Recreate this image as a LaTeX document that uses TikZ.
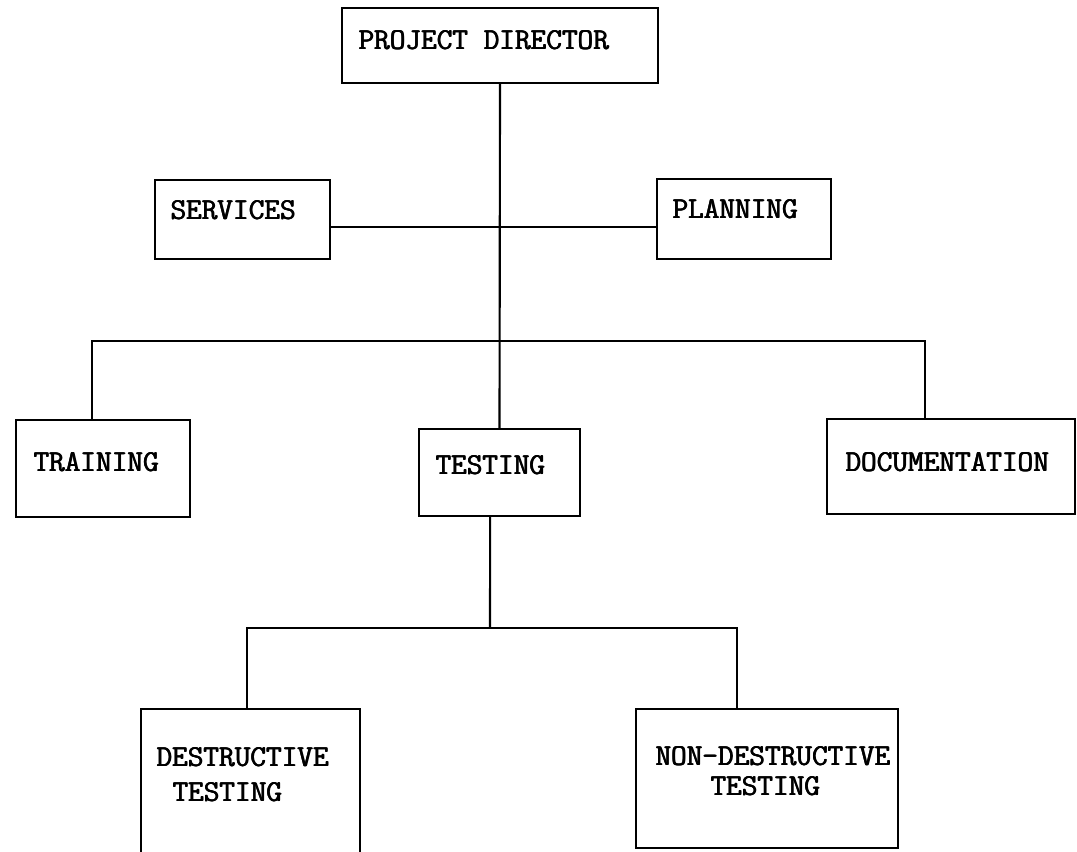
\documentclass[tikz,border=0pt]{standalone}
\newcommand{\ovs}[1]{\rlap{\hspace{0.55pt}#1}\rlap{\raisebox{0.35pt}{#1}}#1}
\begin{document}
\begin{tikzpicture}[x=0.75pt,y=-0.75pt,
  box/.style={draw=black,line width=1.9pt,inner sep=0pt,outer sep=0pt,rectangle},
  lbl/.style={inner sep=0pt,anchor=west,font=\fontsize{22.8}{27}\selectfont\ttfamily},
  conn/.style={draw=black,line width=1.6pt}]
\useasboundingbox (0,0) rectangle (1077,851);
\fill[white] (0,0) rectangle (1077,851);
% boxes
\node[box,minimum width=237pt,minimum height=56.25pt] (pd) at (500,45.5) {};
\node[box,minimum width=131.25pt,minimum height=59.25pt] (srv) at (242.5,219.5) {};
\node[box,minimum width=130.5pt,minimum height=60pt] (pln) at (744,219) {};
\node[box,minimum width=130.5pt,minimum height=72.75pt] (trn) at (103,468.5) {};
\node[box,minimum width=120.75pt,minimum height=65.25pt] (tst) at (499.5,472.5) {};
\node[box,minimum width=186pt,minimum height=71.25pt] (doc) at (951,466.5) {};
\node[box,minimum width=164.25pt,minimum height=114pt] (des) at (250.5,785) {};
\node[box,minimum width=196.5pt,minimum height=104.25pt] (nd) at (767,778.5) {};
% labels
\node[lbl] (pdT) at (358,40) {\ovs{PROJECT DIRECTOR}};
\node[lbl] (srvT) at (170,210) {\ovs{SERVICES}};
\node[lbl] (plnT) at (672,209) {\ovs{PLANNING}};
\node[lbl] (trnT) at (33,462) {\ovs{TRAINING}};
\node[lbl] (tstT) at (435,465) {\ovs{TESTING}};
\node[lbl] (docT) at (845,462) {\ovs{DOCUMENTATION}};
\node[lbl] (desT1) at (156,757) {\ovs{DESTRUCTIVE}};
\node[lbl] (desT2) at (172,792) {\ovs{TESTING}};
\node[lbl] (ndT1) at (655,756) {\ovs{NON-DESTRUCTIVE}};
\node[lbl] (ndT2) at (710,786) {\ovs{TESTING}};
% connectors
\coordinate (bus1) at (500,341);
\coordinate (bus2) at (490,628);
\draw[conn] (pd.south) -- (tst.north);
\draw[conn] ([yshift=-5.6pt]srv.east) -- ([yshift=-5.6pt]srv.east -| pln.west);
\draw[conn] ([xshift=-8.25pt]trn.north) |- (bus1) -| ([xshift=-19.5pt]doc.north);
\draw[conn] ([xshift=-7pt]tst.south) -- (bus2);
\draw[conn] ([xshift=-2.6pt]des.north) |- (bus2) -| ([xshift=-22.5pt]nd.north);
\end{tikzpicture}
\end{document}
